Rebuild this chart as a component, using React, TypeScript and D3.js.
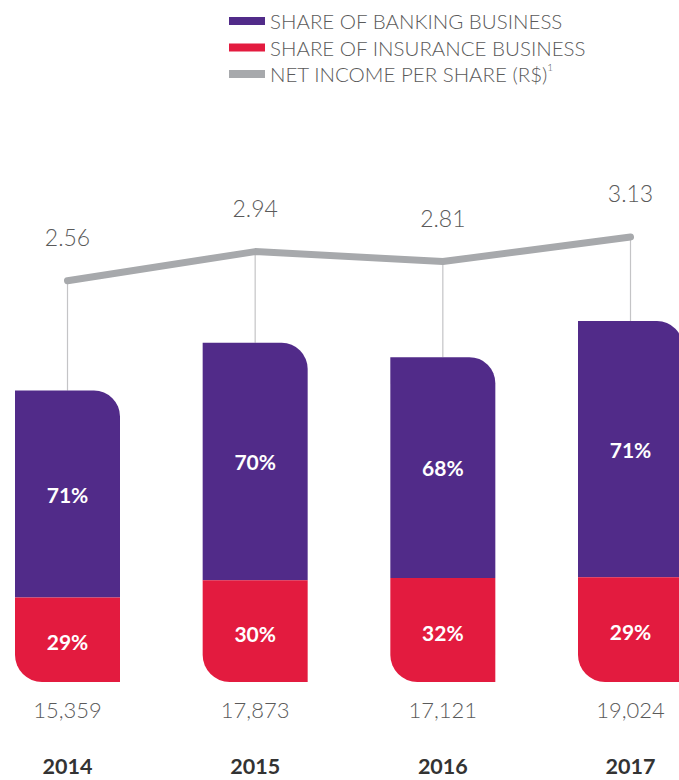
import React, { useEffect, useRef } from "react";
import * as d3 from "d3";

const years = ["2014", "2015", "2016", "2017"];
const netIncome = [15359, 17873, 17121, 19024];
const bankingShare = [71, 70, 68, 71];
const insuranceShare = [29, 30, 32, 29];
const incomePerShare = [2.56, 2.94, 2.81, 3.13];

const legendLabels = ["SHARE OF BANKING BUSINESS", "SHARE OF INSURANCE BUSINESS", "NET INCOME PER SHARE (R$)"];
const legendColors = ["#512b89", "#e31b3f", "#a7a9ac"];

const PURPLE = "#512b89";
const RED = "#e31b3f";
const GREY = "#a7a9ac";

// rect with only top-right corner (tr) and/or bottom-left corner (bl) rounded
function segPath(x: number, y: number, w: number, h: number, tr: number, bl: number) {
  const p = d3.path();
  p.moveTo(x, y);
  p.lineTo(x + w - tr, y);
  if (tr) p.arcTo(x + w, y, x + w, y + tr, tr);
  p.lineTo(x + w, y + h);
  p.lineTo(x + bl, y + h);
  if (bl) p.arcTo(x, y + h, x, y + h - bl, bl);
  p.lineTo(x, y);
  p.closePath();
  return p.toString();
}

export default function App() {
  const ref = useRef<SVGSVGElement>(null);

  useEffect(() => {
    document.body.style.margin = "0";
    const svg = d3.select(ref.current);
    svg.selectAll("*").remove();

    const font = "Lato, 'Open Sans', sans-serif";

    const x = d3.scaleBand().domain(years).range([15, 683]).paddingInner(0.4405);
    const y = d3.scaleLinear().domain([0, 20000]).range([682, 302.5]);
    const yl = d3.scaleLinear().domain([2.5, 3.2]).range([285.3, 231.7]);
    const bw = x.bandwidth();
    const cx = (d: string) => (x(d) as number) + bw / 2;

    // legend
    const leg = svg.append("g");
    legendLabels.forEach((l, i) => {
      const yy = 21 + i * 26.5;
      leg.append("rect").attr("x", 229).attr("y", yy - 4).attr("width", 36).attr("height", 8).attr("fill", legendColors[i]);
      const t = leg.append("text")
        .attr("x", 270).attr("y", yy)
        .attr("dominant-baseline", "central")
        .attr("font-family", font).attr("font-weight", 300)
        .attr("font-size", 20.5).attr("fill", "#5a5a5a")
        .text(l);
      if (i === 2) t.append("tspan").attr("font-size", 10).attr("dy", -7).text("1");
    });

    // connectors
    years.forEach((d, i) => {
      svg.append("line")
        .attr("x1", cx(d)).attr("x2", cx(d))
        .attr("y1", yl(incomePerShare[i])).attr("y2", y(netIncome[i]))
        .attr("stroke", "#c4c4c6").attr("stroke-width", 1.2);
    });

    // bars
    years.forEach((d, i) => {
      const top = y(netIncome[i]);
      const h = y(0) - top;
      const hb = (h * bankingShare[i]) / 100;
      const hi = h - hb;
      const x0 = x(d) as number;
      svg.append("path").attr("d", segPath(x0, top, bw, hb, 26, 0)).attr("fill", PURPLE);
      svg.append("path").attr("d", segPath(x0, top + hb, bw, hi, 0, 27)).attr("fill", RED);

      svg.append("text")
        .attr("x", cx(d)).attr("y", top + hb / 2)
        .attr("text-anchor", "middle").attr("dominant-baseline", "central")
        .attr("font-family", font).attr("font-weight", 700).attr("font-size", 21)
        .attr("fill", "#fff").text(bankingShare[i] + "%");
      svg.append("text")
        .attr("x", cx(d)).attr("y", top + hb + hi / 2 + 2)
        .attr("text-anchor", "middle").attr("dominant-baseline", "central")
        .attr("font-family", font).attr("font-weight", 700).attr("font-size", 21)
        .attr("fill", "#fff").text(insuranceShare[i] + "%");

      svg.append("text")
        .attr("x", cx(d)).attr("y", 709)
        .attr("text-anchor", "middle").attr("dominant-baseline", "central")
        .attr("font-family", font).attr("font-weight", 300).attr("font-size", 22)
        .attr("fill", "#5a5a5a").text(d3.format(",")(netIncome[i]));

      svg.append("text")
        .attr("x", cx(d)).attr("y", 766)
        .attr("text-anchor", "middle").attr("dominant-baseline", "central")
        .attr("font-family", font).attr("font-weight", 700).attr("font-size", 21.5)
        .attr("fill", "#333").text(d);
    });

    // line
    const line = d3.line<number>()
      .x((_, i) => cx(years[i]))
      .y((v) => yl(v));
    svg.append("path")
      .datum(incomePerShare)
      .attr("d", line)
      .attr("fill", "none")
      .attr("stroke", GREY)
      .attr("stroke-width", 7)
      .attr("stroke-linecap", "round")
      .attr("stroke-linejoin", "round");

    years.forEach((d, i) => {
      svg.append("text")
        .attr("x", cx(d)).attr("y", yl(incomePerShare[i]) - 44)
        .attr("text-anchor", "middle").attr("dominant-baseline", "central")
        .attr("font-family", font).attr("font-weight", 300).attr("font-size", 23)
        .attr("fill", "#5a5a5a").text(incomePerShare[i].toFixed(2));
    });
  }, []);

  return <svg ref={ref} width={679} height={780} style={{ display: "block" }} />;
}
